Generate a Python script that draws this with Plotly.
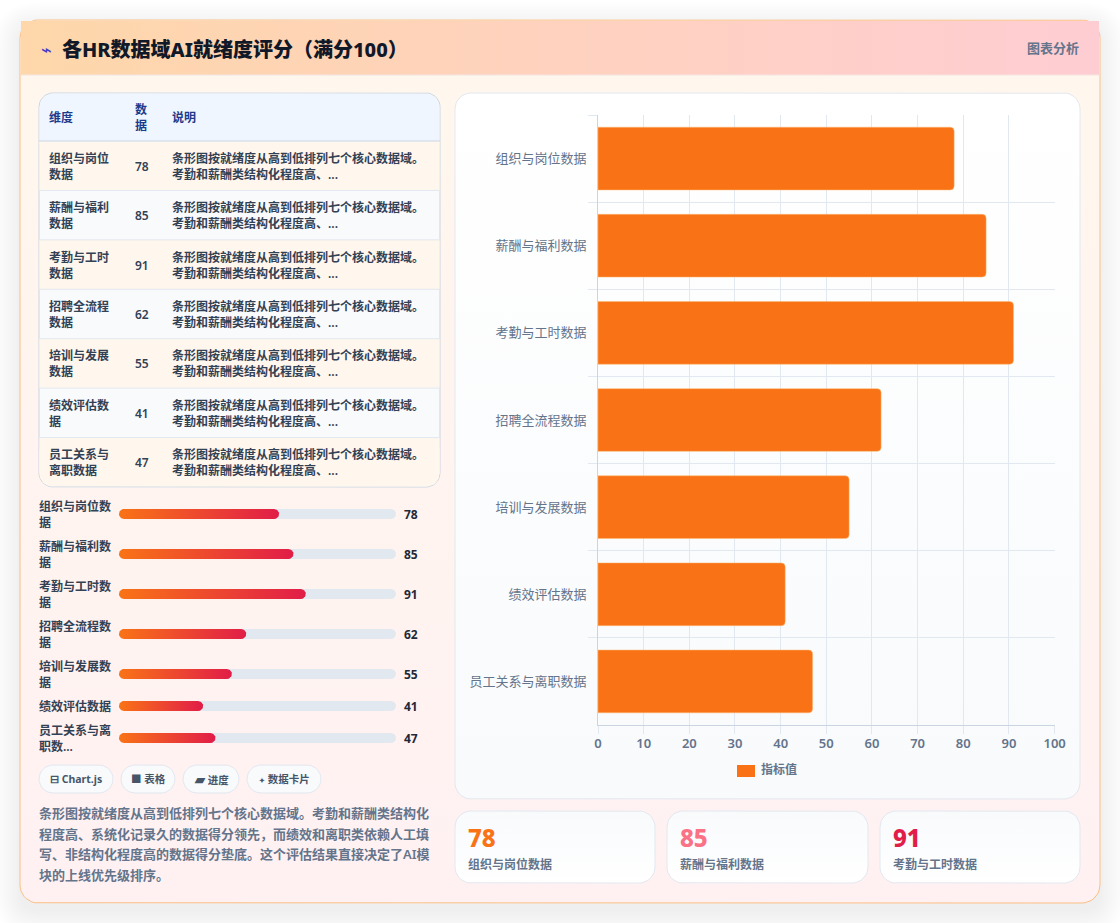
import numpy as np
import plotly.graph_objects as go

# ---- data ----
categories = ["组织与岗位数据", "薪酬与福利数据", "考勤与工时数据", "招聘全流程数据",
              "培训与发展数据", "绩效评估数据", "员工关系与离职数据"]
scores = [78, 85, 91, 62, 55, 41, 47]
table_names = ["组织与岗位<br>数据", "薪酬与福利<br>数据", "考勤与工时<br>数据", "招聘全流程<br>数据",
               "培训与发展<br>数据", "绩效评估数<br>据", "员工关系与<br>离职数据"]
progress_names = ["组织与岗位数<br>据", "薪酬与福利数<br>据", "考勤与工时数<br>据", "招聘全流程数<br>据",
                  "培训与发展数<br>据", "绩效评估数据", "员工关系与离<br>职数..."]
table_note = "条形图按就绪度从高到低排列七个核心数据域。<br>考勤和薪酬类结构化程度高、..."
summary_lines = ["条形图按就绪度从高到低排列七个核心数据域。考勤和薪酬类结构化",
                 "程度高、系统化记录久的数据得分领先，而绩效和离职类依赖人工填",
                 "写、非结构化程度高的数据得分垫底。这个评估结果直接决定了AI模",
                 "块的上线优先级排序。"]
chips = ["⊟ Chart.js", "■ 表格", "<span style='font-size:13px'>▰</span> 进度",
         "<span style='font-size:7px'>✦</span> 数据卡片"]
kpi_colors = ["#f97316", "#fb7185", "#e11d48"]

W, H = 1120, 923
FONT = "Noto Sans, Noto Sans CJK SC"
AXIS_TOP = 115
AXIS_BOTTOM = 725
AXIS_LEFT = 598
AXIS_RIGHT = 1054.6
TRACK_LEFT, TRACK_RIGHT = 119, 396
TRACK_MAX = 135
ROW_CENTERS = [514, 554, 594, 634, 674, 706, 738]


def rounded_points(x0, y0, x1, y1, r, n=10, sx=1.0):
    """Outline of a rounded rectangle; sx converts a pixel radius into x units."""
    t = np.linspace(0, np.pi / 2, n)
    rx = r * sx
    xs = np.concatenate([x0 + rx - rx * np.cos(t), x1 - rx + rx * np.sin(t),
                         x1 - rx + rx * np.cos(t), x0 + rx - rx * np.sin(t), [x0]])
    ys = np.concatenate([y0 + r - r * np.sin(t), y0 + r - r * np.cos(t),
                         y1 - r + r * np.sin(t), y1 - r + r * np.cos(t), [y0 + r]])
    return xs.tolist(), ys.tolist()


def rounded_path(x0, y0, x1, y1, r):
    return (f"M{x0 + r},{y0} L{x1 - r},{y0} Q{x1},{y0} {x1},{y0 + r} L{x1},{y1 - r} "
            f"Q{x1},{y1} {x1 - r},{y1} L{x0 + r},{y1} Q{x0},{y1} {x0},{y1 - r} "
            f"L{x0},{y0 + r} Q{x0},{y0} {x0 + r},{y0} Z")


fig = go.Figure()


def panel(x0, y0, x1, y1, r, fill=None, gradient=None, line=None, width=1, axes=("x", "y")):
    xs, ys = rounded_points(x0, y0, x1, y1, r)
    kw = dict(fillcolor=fill) if fill else dict(fillgradient=gradient)
    fig.add_trace(go.Scatter(x=xs, y=ys, mode="lines", fill="toself", xaxis=axes[0], yaxis=axes[1],
                             line=dict(color=line or "rgba(0,0,0,0)", width=width if line else 0),
                             hoverinfo="skip", showlegend=False, **kw))


def grad(kind, c0, c1):
    return dict(type=kind, colorscale=[[0, c0], [1, c1]])


def label(x, y, text, size=12, color="#475569", weight=400, anchor="left", align="left"):
    # annotations carry a 1px inset, which is taken back out here
    x = x - 1 if anchor == "left" else x + 1 if anchor == "right" else x
    fig.add_annotation(x=x, y=y, xref="x", yref="y", text=text, showarrow=False, xanchor=anchor,
                       yanchor="middle", align=align, borderpad=0,
                       font=dict(family=FONT, size=size, color=color, weight=weight))


# soft drop shadow under the card
shapes = []
for i in range(16):
    g = 26 - i * 1.7
    shapes.append(dict(type="path", xref="x", yref="y", layer="below", line_width=0,
                       path=rounded_path(20 - g, 28 - g, 1100 + g, 911 + g, 18 + g),
                       fillcolor="rgba(15,23,42,0.0035)"))

# outer card and header band
panel(20, 20, 1100, 903, 18, gradient=grad("vertical", "#fff1f2", "#fff7ed"), line="#fbbf85")
panel(21, 21, 1099, 75, 0, gradient=grad("horizontal", "#fed7aa", "#fecdd3"))
fig.add_trace(go.Scatter(x=[21, 1099], y=[75, 75], mode="lines", line=dict(color="#f3e6e2", width=1),
                         hoverinfo="skip", showlegend=False))
label(41, 49, "⌁", size=18, color="#4338ca", weight=400)
label(62, 49, "各HR数据域AI就绪度评分（满分100）", size=20, color="#111827", weight=800)
label(1079, 48, "图表分析", size=13, color="#64748b", weight=700, anchor="right")

# table
TX0, TX1, TY0, TY1 = 39, 440, 93, 487
HEAD = 141
ROW_H = (TY1 - HEAD) / len(categories)
panel(TX0, TY0, TX1, TY1, 14, fill="#f8fafc", line="#cbd5e1")
panel(TX0 + 0.5, TY0 + 0.5, TX1 - 0.5, HEAD + 14, 14, fill="#eff6ff")
panel(TX0 + 0.5, HEAD, TX1 - 0.5, HEAD + ROW_H, 0, fill="#fff7ed")
for i in range(2, 6, 2):
    panel(TX0 + 0.5, HEAD + i * ROW_H, TX1 - 0.5, HEAD + (i + 1) * ROW_H, 0, fill="#fff7ed")
panel(TX0 + 0.5, HEAD + 6 * ROW_H, TX1 - 0.5, TY1 - 0.5, 13, fill="#fff7ed")
panel(TX0 + 0.5, HEAD + 6 * ROW_H, TX1 - 0.5, TY1 - 14, 0, fill="#fff7ed")
for i in range(7):
    yy = HEAD + i * ROW_H
    fig.add_trace(go.Scatter(x=[TX0, TX1], y=[yy, yy], mode="lines", hoverinfo="skip", showlegend=False,
                             line=dict(color="#cbd5e1" if i == 0 else "#e2e8f0", width=1)))
label(49, 117.5, "维度", color="#1e3a8a", weight=700)
label(135, 117.5, "数<br>据", color="#1e3a8a", weight=700)
label(172, 117.5, "说明", color="#1e3a8a", weight=700)
for i, (name, v) in enumerate(zip(table_names, scores)):
    cy = HEAD + (i + 0.5) * ROW_H + 0.5
    label(49, cy, name, color="#334155", weight=600)
    label(135, cy, str(v), color="#334155", weight=600)
    label(172, cy, table_note, color="#334155", weight=600)

# progress rows: names and values sit beside the tracks
for name, v, cy in zip(progress_names, scores, ROW_CENTERS):
    label(39, cy, name, color="#334155", weight=600)
    label(404, cy + 0.5, str(v), color="#1f2937", weight=700)

# chips
chip_edges = [(39, 113), (121, 175), (183, 239), (247, 321)]
for (a, b), text in zip(chip_edges, chips):
    panel(a, 765, b, 793, 14, fill="#f8fafc", line="#e2e8f0")
    label((a + b) / 2, 779, text, size=10.5, color="#475569", weight=700, anchor="center")

# summary paragraph
for i, line in enumerate(summary_lines):
    label(39, 813 + i * 20.7, line, size=13, color="#64748b", weight=600)

# chart card and stat cards
panel(455, 93, 1080, 799, 16, gradient=grad("vertical", "#f8fafc", "#ffffff"), line="#e2e8f0")
stat_edges = [(455, 655), (667, 868), (880, 1080)]
for i, (a, b) in enumerate(stat_edges):
    panel(a, 811, b, 883, 16, gradient=grad("vertical", "#ffffff", "#f8fafc"), line="#e2e8f0")
    label(a + 13, 837, str(scores[i]), size=24, color=kpi_colors[i], weight=800)
    label(a + 13, 864, categories[i], size=12, color="#64748b", weight=600)

# bar chart
fig.add_trace(go.Bar(x=scores, y=categories, orientation="h", xaxis="x2", yaxis="y2", name="指标值",
                     width=0.72, hoverinfo="skip", showlegend=False,
                     marker=dict(color="#f97316", cornerradius=4,
                                 line=dict(color="rgba(253,186,116,0.5)", width=1))))
panel(737, 765, 755, 777, 0, fill="#f97316")
label(761, 769.5, "指标值", size=12, color="#64748b", weight=600)

# progress fills, scaled through their own x axis
sx = TRACK_MAX / (TRACK_RIGHT - TRACK_LEFT)
for cy, v in zip(ROW_CENTERS, scores):
    xs, ys = rounded_points(0, cy - 5, TRACK_MAX, cy + 5, 5, sx=sx)
    fig.add_trace(go.Scatter(x=xs, y=ys, mode="lines", fill="toself", fillcolor="#e2e8f0", xaxis="x3", yaxis="y3",
                             line=dict(width=0), hoverinfo="skip", showlegend=False))
    xs, ys = rounded_points(0, cy - 5, v, cy + 5, 5, sx=sx)
    fig.add_trace(go.Scatter(x=xs, y=ys, mode="lines", fill="toself", xaxis="x3", yaxis="y3",
                             fillgradient=grad("horizontal", "#f97316", "#e11d48"),
                             line=dict(width=0), hoverinfo="skip", showlegend=False))

hidden = dict(visible=False, showgrid=False, zeroline=False, fixedrange=True, automargin=False)
fig.update_layout(
    width=W, height=H, autosize=False,
    margin=dict(l=0, r=0, t=0, b=0, pad=0),
    paper_bgcolor="#ffffff", plot_bgcolor="rgba(0,0,0,0)",
    showlegend=False, shapes=shapes, font=dict(family=FONT),
    xaxis=dict(domain=[0, 1], range=[0, W], **hidden),
    yaxis=dict(domain=[0, 1], range=[H, 0], **hidden),
    xaxis2=dict(domain=[AXIS_LEFT / W, AXIS_RIGHT / W], range=[0, 100], anchor="y2", dtick=10,
                automargin=False, layer="below traces", ticklabelstandoff=-2,
                showgrid=True, gridcolor="#e2e8f0", gridwidth=1, zeroline=False,
                showline=True, linecolor="#cbd5e1", ticks="outside", ticklen=8, tickcolor="#e2e8f0",
                tickfont=dict(family=FONT, size=13, color="#64748b", weight=600), fixedrange=True),
    yaxis2=dict(domain=[1 - AXIS_BOTTOM / H, 1 - AXIS_TOP / H], range=[6.5, -0.5], anchor="x2", type="category",
                automargin=False, layer="below traces",
                categoryorder="array", categoryarray=categories, tickson="boundaries",
                showgrid=True, gridcolor="#e2e8f0", gridwidth=1, zeroline=False,
                showline=True, linecolor="#cbd5e1", ticks="outside", ticklen=9, tickcolor="#e2e8f0",
                ticklabelstandoff=8,
                tickfont=dict(family=FONT, size=13, color="#64748b"), fixedrange=True),
    xaxis3=dict(domain=[TRACK_LEFT / W, TRACK_RIGHT / W], range=[0, TRACK_MAX], anchor="y3", **hidden),
    yaxis3=dict(domain=[0, 1], range=[H, 0], anchor="x3", **hidden),
)

fig.write_html("out.html", config={"displayModeBar": False, "staticPlot": True},
               post_script="document.body.style.margin='0';")
